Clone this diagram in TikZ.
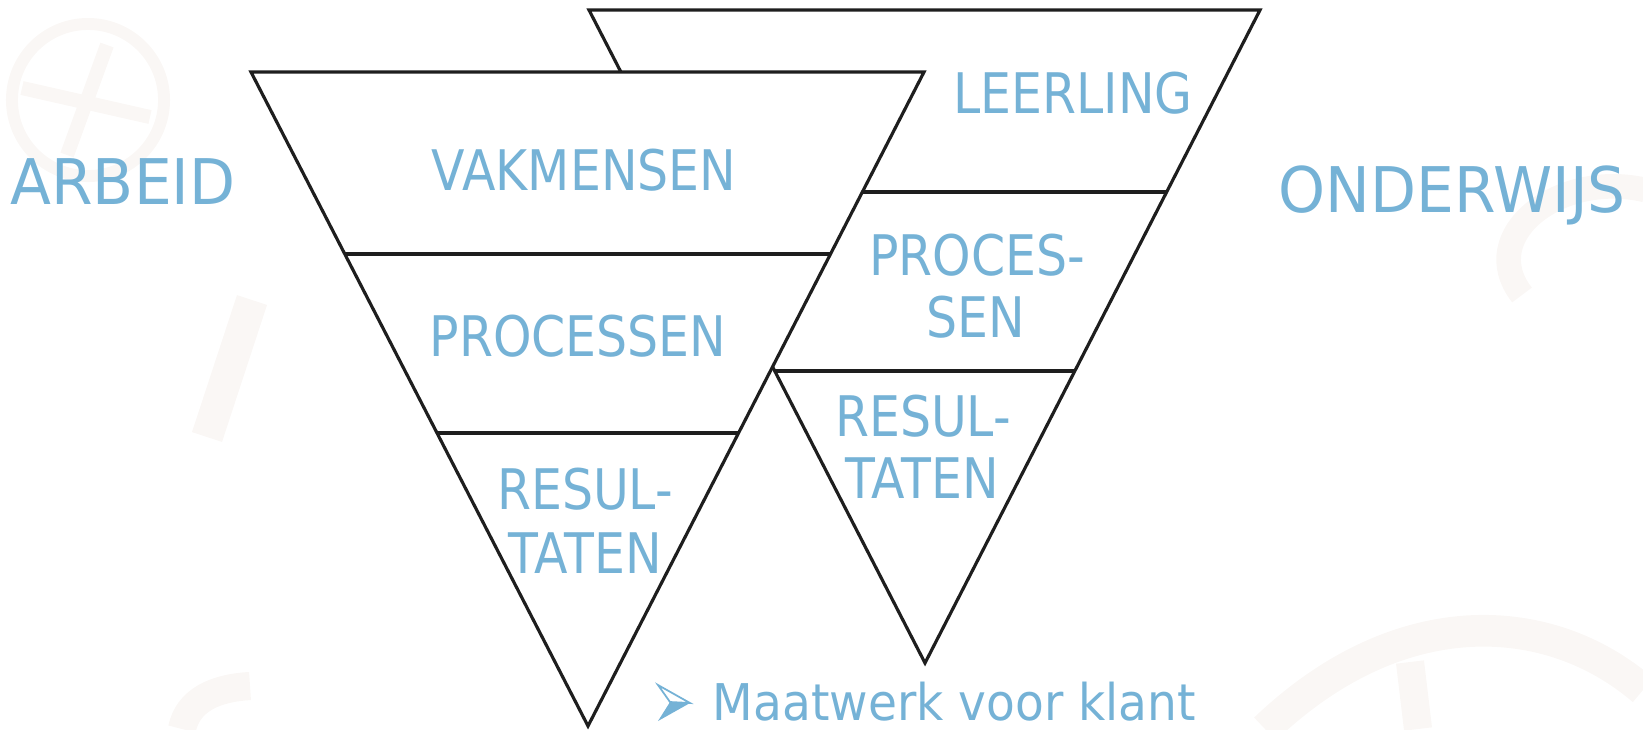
\documentclass[tikz,border=0pt]{standalone}
\usepackage{fontspec}
\setmainfont{DejaVu Sans}
\newfontfamily\lblfont[FakeStretch=0.875]{DejaVu Sans}
\newfontfamily\bigfont[FakeStretch=0.95]{DejaVu Sans}
\newfontfamily\notefont[FakeStretch=0.93]{DejaVu Sans}
\usetikzlibrary{calc}
\definecolor{txtblue}{RGB}{117,178,214}
\definecolor{wm}{RGB}{250,247,245}
\definecolor{edge}{RGB}{30,30,30}
\begin{document}
\begin{tikzpicture}[x=0.01cm,y=-0.01cm,
  tri/.style={draw=edge,line width=0.9pt,fill=white,line join=miter},
  sep/.style={draw=edge,line width=0.9pt},
  inlbl/.style={font=\lblfont\fontsize{15.9}{19}\selectfont,text=txtblue,inner sep=0pt,anchor=base},
  outlbl/.style={font=\bigfont\fontsize{17.9}{21}\selectfont,text=txtblue,inner sep=0pt,anchor=base},
  notelbl/.style={font=\notefont\fontsize{14.4}{17}\selectfont,text=txtblue,inner sep=0pt,anchor=base west},
  wmark/.style={draw=wm,line cap=butt}]
\useasboundingbox (0,0) rectangle (1643,729);
% faint watermark shapes
\draw[wmark,line width=3.4pt] (88,100) circle[radius=0.76cm];
\draw[wmark,line width=4pt] (22,88) -- (150,117);
\draw[wmark,line width=4pt] (107,45) -- (67,155);
\draw[wmark,line width=9pt] (252,300) -- (207,437);
\draw[wmark,line width=7pt] (1645,190) .. controls (1560,170) and (1475,235) .. (1522,295);
\draw[wmark,line width=9pt] (1265,729) .. controls (1400,600) and (1550,610) .. (1643,690);
\draw[wmark,line width=8pt] (1410,662) -- (1418,729);
\draw[wmark,line width=8pt] (182,729) .. controls (188,700) and (215,688) .. (250,686);
% right triangle (behind)
\coordinate (R1) at (589,10);
\coordinate (R2) at (1260,10);
\coordinate (R3) at (925,663);
\draw[tri] (R1) -- (R2) -- (R3) -- cycle;
\draw[sep] ($(R1)!0.2787!(R3)$) -- ($(R2)!0.2787!(R3)$);
\draw[sep] ($(R1)!0.5528!(R3)$) -- ($(R2)!0.5528!(R3)$);
% left triangle (front)
\coordinate (L1) at (251,72);
\coordinate (L2) at (924,72);
\coordinate (L3) at (588,726);
\draw[tri] (L1) -- (L2) -- (L3) -- cycle;
\draw[sep] ($(L1)!0.2783!(L3)$) -- ($(L2)!0.2783!(L3)$);
\draw[sep] ($(L1)!0.552!(L3)$) -- ($(L2)!0.552!(L3)$);
% labels
\node[outlbl] (arbeid) at (123,204) {ARBEID};
\node[outlbl] (onderwijs) at (1452,212) {ONDERWIJS};
\node[inlbl] (vak) at (584,190) {VAKMENSEN};
\node[inlbl] (proc) at (578,356) {PROCESSEN};
\node[inlbl] (res1) at (585,509) {RESUL-};
\node[inlbl] (tat1) at (585,573) {TATEN};
\node[inlbl] (leer) at (1073,113) {LEERLING};
\node[inlbl] (proc2a) at (977,275) {PROCES-};
\node[inlbl] (proc2b) at (976,337) {SEN};
\node[inlbl] (res2) at (923,436) {RESUL-};
\node[inlbl] (tat2) at (922,498) {TATEN};
% bullet arrowhead and note
\coordinate (A1) at (658,685);
\coordinate (A2) at (690,703);
\coordinate (A3) at (658,721);
\coordinate (A4) at (670,702);
\draw[txtblue,line width=0.5pt,fill=white,line join=miter] (A1) -- (A2) -- (A4) -- cycle;
\fill[txtblue] (A4) -- (A2) -- (A3) -- cycle;
\node[notelbl] (note) at (712,720) {Maatwerk voor klant};
\end{tikzpicture}
\end{document}
